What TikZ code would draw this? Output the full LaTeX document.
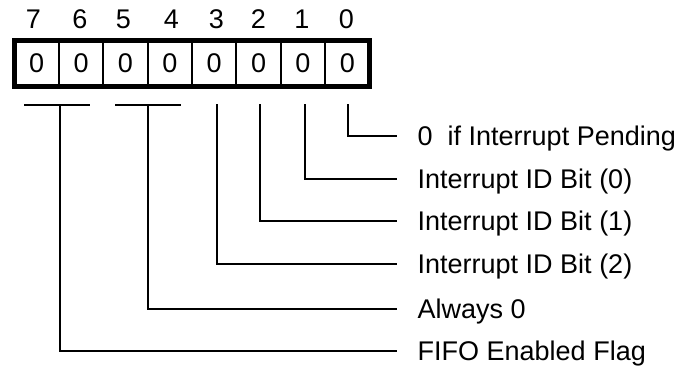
\documentclass[tikz,border=0pt]{standalone}
\usepackage{fontspec}
\setmainfont{Liberation Sans}
\newcommand\lblfont{\fontsize{27}{32}\selectfont}
\begin{document}
\begin{tikzpicture}[x=1pt,y=-1pt,
  cell/.style={draw, line width=1.8pt, minimum width=44.375pt, minimum height=46pt,
    inner sep=0pt, outer sep=0pt, anchor=center, font=\lblfont},
  bitnum/.style={inner sep=0pt, text depth=0pt, font=\lblfont},
  lbl/.style={anchor=west, inner xsep=20.5pt, inner ysep=0pt, text height=19.5pt,
    text depth=0pt, font=\lblfont},
  wire/.style={line width=1.8pt}]
\useasboundingbox (0,0) rectangle (690,368);
% register cells
\foreach \i in {0,...,7} {
  \node[cell] (c\i) at ({14.5+44.375*(7-\i)+22.1875},63.5) {0};
}
\draw[line width=5pt] (c7.north west) rectangle (c0.south east);
% bit numbers
\node[bitnum] (n7) at (33.5,19) {7};
\node[bitnum] (n6) at (80,19) {6};
\node[bitnum] (n5) at (123.5,19) {5};
\node[bitnum] (n4) at (171.5,19) {4};
\node[bitnum] (n3) at (216.5,19) {3};
\node[bitnum] (n2) at (258.5,19) {2};
\node[bitnum] (n1) at (302,19) {1};
\node[bitnum] (n0) at (346.5,19) {0};
% labels
\node[lbl] (l0) at (397,136) {0\ \ if Interrupt Pending};
\node[lbl] (l1) at (397,179) {Interrupt ID Bit (0)};
\node[lbl] (l2) at (397,221) {Interrupt ID Bit (1)};
\node[lbl] (l3) at (397,264) {Interrupt ID Bit (2)};
\node[lbl] (l4) at (397,309) {Always 0};
\node[lbl] (l5) at (397,351) {FIFO Enabled Flag};
% connector tops
\coordinate (t0) at (348,104);
\coordinate (t1) at (305,104);
\coordinate (t2) at (260,104);
\coordinate (t3) at (217,104);
\coordinate (ta) at (24,105);
\coordinate (tb) at (90,105);
\coordinate (tm) at (60,105);
\coordinate (ua) at (115,105);
\coordinate (ub) at (181,105);
\coordinate (um) at (148,105);
% connectors
\draw[wire] (t0) |- (l0.west);
\draw[wire] (t1) |- (l1.west);
\draw[wire] (t2) |- (l2.west);
\draw[wire] (t3) |- (l3.west);
\draw[wire] (ua) -- (ub);
\draw[wire] (um) |- (l4.west);
\draw[wire] (ta) -- (tb);
\draw[wire] (tm) |- (l5.west);
\end{tikzpicture}
\end{document}
